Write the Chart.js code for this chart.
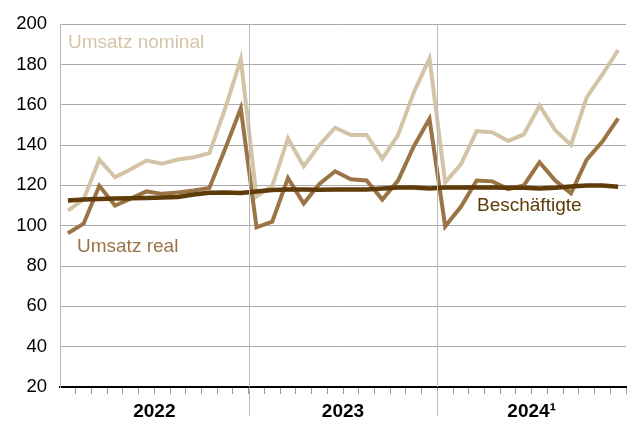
<!DOCTYPE html>
<html lang="de">
<head>
<meta charset="utf-8">
<script src="https://cdn.jsdelivr.net/npm/chart.js@4"></script>
<style>
  html, body { margin: 0; padding: 0; background: #fff; }
  #wrap { width: 629px; height: 422px; position: relative; }
</style>
</head>
<body>
<div id="wrap"><canvas id="chart"></canvas></div>
<script>
// ===== DATA =====
const months = [
  "Jan 22", "Feb 22", "Mär 22", "Apr 22", "Mai 22", "Jun 22", "Jul 22", "Aug 22", "Sep 22", "Okt 22", "Nov 22", "Dez 22",
  "Jan 23", "Feb 23", "Mär 23", "Apr 23", "Mai 23", "Jun 23", "Jul 23", "Aug 23", "Sep 23", "Okt 23", "Nov 23", "Dez 23",
  "Jan 24", "Feb 24", "Mär 24", "Apr 24", "Mai 24", "Jun 24", "Jul 24", "Aug 24", "Sep 24", "Okt 24", "Nov 24", "Dez 24"
];
const years = ["2022", "2023", "2024\u00B9"];

const umsatzNominal = [
  107.5, 113, 132.8, 124, 128, 132.3, 130.8, 132.8, 134, 136, 158, 182.6,
  114.5, 119.8, 143.3, 129.5, 140, 148.6, 145, 145, 133.3, 145, 166, 183,
  121.5, 130.4, 146.9, 146.3, 142, 145.3, 159.5, 147.4, 140.1, 163.7, 175, 187.1
];
const umsatzReal = [
  96.3, 101, 119.8, 110, 113.4, 117, 115.8, 116.5, 117.5, 118.7, 138, 158.2,
  99.2, 102, 123.6, 111, 120.7, 127, 123, 122.4, 113, 122.4, 139.3, 153,
  99.7, 109.4, 122.4, 122, 118.2, 120, 131.5, 122.4, 116.1, 132.8, 141.7, 153.2
];
const beschaeftigte = [
  112.5, 113, 113.3, 113.5, 113.6, 113.8, 114, 114.2, 115.5, 116.3, 116.5, 116.2,
  117, 117.7, 118, 118, 117.8, 118, 118, 118, 118.5, 119, 119, 118.5,
  119, 119, 119, 119, 118.8, 118.8, 118.5, 118.8, 119.5, 120, 120, 119.3
];

const yTicks = [20, 40, 60, 80, 100, 120, 140, 160, 180, 200];

// ===== COLORS =====
const colNominal = "#d4c4a7";
const colReal = "#9a7444";
const colBesch = "#5e3b08";
const colGrid = "#a9a9a9";
const colSep = "#b8b8b8";

const FONT = "'Liberation Sans', Arial, Helvetica, sans-serif";

// ===== PLUGIN: year separators, year labels, series labels =====
const decorPlugin = {
  id: "decor",
  afterDraw(chart) {
    const { ctx, chartArea, scales } = chart;
    const x = scales.x;
    ctx.save();

    // year separators
    ctx.strokeStyle = colSep;
    ctx.lineWidth = 1;
    [12, 24].forEach((i) => {
      const px = Math.round((x.getPixelForValue(i - 1) + x.getPixelForValue(i)) / 2) + 0.5;
      ctx.beginPath();
      ctx.moveTo(px, chartArea.top);
      ctx.lineTo(px, chartArea.bottom);
      ctx.moveTo(px, chartArea.bottom + 2);
      ctx.lineTo(px, 416);
      ctx.stroke();
    });

    // year labels
    ctx.fillStyle = "#000";
    ctx.font = "bold 19px " + FONT;
    ctx.textAlign = "center";
    ctx.textBaseline = "alphabetic";
    years.forEach((yr, k) => {
      const cx = (x.getPixelForValue(k * 12 + 5) + x.getPixelForValue(k * 12 + 6)) / 2;
      ctx.fillText(yr, cx, 417);
    });

    // series labels
    ctx.font = "19px " + FONT;
    ctx.textAlign = "left";
    ctx.fillStyle = colNominal;
    ctx.fillText("Umsatz nominal", 68, 48);
    ctx.fillStyle = colReal;
    ctx.fillText("Umsatz real", 77, 252);
    ctx.fillStyle = colBesch;
    ctx.fillText("Beschäftigte", 477, 211);

    ctx.restore();
  },
};

// ===== CHART =====
new Chart(document.getElementById("chart").getContext("2d"), {
  type: "line",
  data: {
    labels: months,
    datasets: [
      {
        label: "Beschäftigte",
        data: beschaeftigte,
        borderColor: colBesch,
        borderWidth: 4.5,
        pointRadius: 0,
        tension: 0,
      },
      {
        label: "Umsatz real",
        data: umsatzReal,
        borderColor: colReal,
        borderWidth: 4,
        pointRadius: 0,
        tension: 0,
      },
      {
        label: "Umsatz nominal",
        data: umsatzNominal,
        borderColor: colNominal,
        borderWidth: 4,
        pointRadius: 0,
        tension: 0,
      },
    ],
  },
  options: {
    responsive: true,
    maintainAspectRatio: false,
    animation: false,
    layout: { padding: { top: 17, right: 3, left: 0, bottom: 0 } },
    plugins: {
      legend: { display: false },
      tooltip: { enabled: false },
    },
    scales: {
      x: {
        type: "category",
        offset: true,
        grid: {
          offset: true,
          drawOnChartArea: false,
          drawTicks: true,
          tickLength: 7,
          // no tick marks at the outer edges
          tickColor: (c) => (c.index === 0 || c.index === 36 ? "rgba(0,0,0,0)" : "#999"),
          tickWidth: 1,
        },
        border: { color: "#000", width: 2 },
        ticks: {
          autoSkip: false,
          maxRotation: 0,
          callback: () => "",
        },
        afterFit: (scale) => { scale.height = 35; },
      },
      y: {
        min: 20,
        max: 200,
        afterBuildTicks: (scale) => {
          scale.ticks = yTicks.map((v) => ({ value: v }));
        },
        grid: { color: colGrid, lineWidth: 1, drawTicks: false },
        border: { color: colSep, width: 1 },
        ticks: {
          color: "#000",
          padding: 13,
          font: { family: FONT, size: 18.5 },
        },
        afterFit: (scale) => { scale.width = 60; },
      },
    },
  },
  plugins: [decorPlugin],
});
</script>
</body>
</html>
